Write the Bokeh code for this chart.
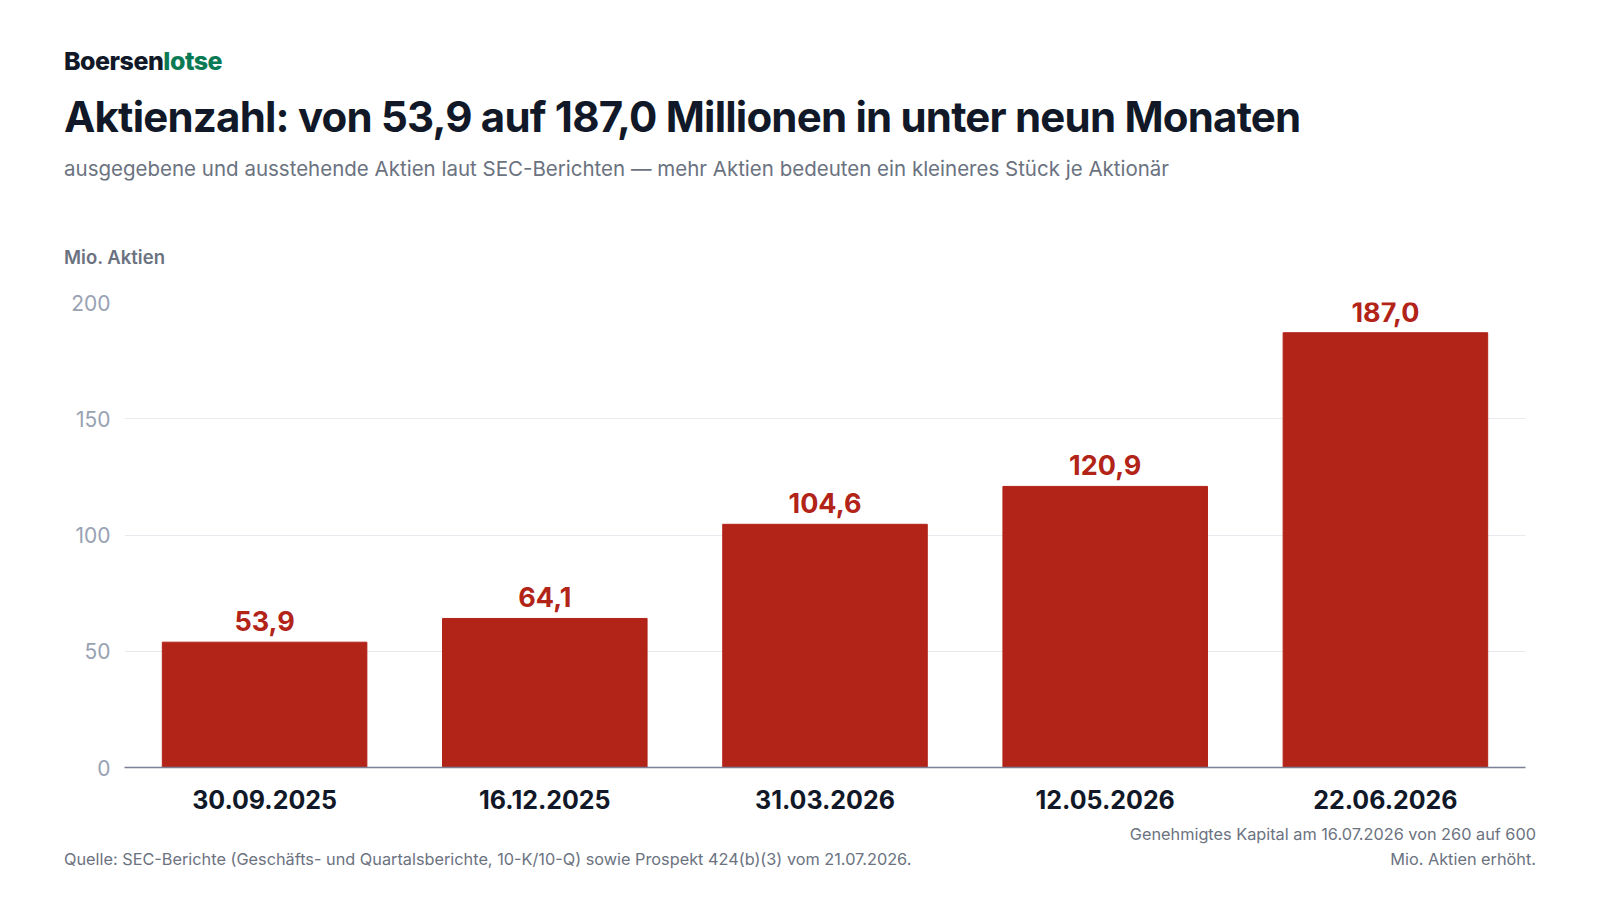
from bokeh.plotting import figure
from bokeh.models import Div, Range1d, ColumnDataSource
from bokeh.layouts import column
from bokeh.embed import file_html
from bokeh.resources import INLINE
from bokeh.core.properties import value

dates = ["30.09.2025", "16.12.2025", "31.03.2026", "12.05.2026", "22.06.2026"]
shares = [53.9, 64.1, 104.6, 120.9, 187.0]
labels = ["53,9", "64,1", "104,6", "120,9", "187,0"]
yticks = [0, 50, 100, 150, 200]

F = "Inter"
header = Div(width=1584, height=265, text=f"""
<div style="position:relative;width:1584px;height:265px;font-family:{F};">
<div style="position:absolute;left:59px;top:44px;font-size:25px;line-height:25px;font-weight:800;color:#111827;letter-spacing:-0.5px">Boersen<span style="color:#0a7a55">lotse</span></div>
<div style="position:absolute;left:59px;top:91px;font-size:42px;line-height:42px;font-weight:700;color:#111827;letter-spacing:-0.8px;white-space:nowrap">Aktienzahl: von 53,9 auf 187,0 Millionen in unter neun Monaten</div>
<div style="position:absolute;left:59px;top:152px;font-size:20.5px;line-height:24px;color:#6b7280;white-space:nowrap">ausgegebene und ausstehende Aktien laut SEC-Berichten — mehr Aktien bedeuten ein kleineres Stück je Aktionär</div>
<div style="position:absolute;left:59px;top:241px;font-size:18.5px;line-height:22px;font-weight:600;color:#6b7280">Mio. Aktien</div>
</div>""")

p = figure(width=1584, height=542, x_range=dates, y_range=Range1d(0, 200),
           output_backend="svg", toolbar_location=None,
           min_border_left=124, min_border_right=59, min_border_top=27, min_border_bottom=50)
src = ColumnDataSource(dict(x=dates, y=shares, t=labels))
p.vbar(x="x", top="y", width=0.73, source=src, color="#b22318")
p.text(x="x", y="y", text="t", source=src, text_align="center", text_baseline="bottom",
       y_offset=-11, text_font=value(F), text_font_size="27px", text_font_style="bold",
       text_color="#b22318")
p.outline_line_color = None
p.xgrid.grid_line_color = None
p.ygrid.grid_line_color = "#e8e9ee"
p.yaxis.ticker = yticks
p.yaxis.axis_line_color = None
p.yaxis.major_tick_line_color = None
p.yaxis.minor_tick_line_color = None
p.yaxis.major_label_text_font = F
p.yaxis.major_label_text_font_size = "21px"
p.yaxis.major_label_text_color = "#98a2b3"
p.yaxis.major_label_standoff = 8
p.xaxis.axis_line_color = "#7b8095"
p.xaxis.axis_line_width = 1.5
p.xaxis.major_tick_line_color = None
p.xaxis.major_label_text_font = F
p.xaxis.major_label_text_font_size = "25px"
p.xaxis.major_label_text_font_style = "bold"
p.xaxis.major_label_text_color = "#111827"
p.xaxis.major_label_standoff = 16
p.x_range.range_padding = 0

footer = Div(width=1584, height=66, text=f"""
<div style="position:relative;width:1584px;height:66px;font-family:{F};font-size:16.3px;line-height:24.5px;color:#6b7280">
<div style="position:absolute;right:53px;top:0px;text-align:right;white-space:nowrap">Genehmigtes Kapital am 16.07.2026 von 260 auf 600<br>Mio. Aktien erhöht.</div>
<div style="position:absolute;left:59px;top:25px;white-space:nowrap">Quelle: SEC-Berichte (Geschäfts- und Quartalsberichte, 10-K/10-Q) sowie Prospekt 424(b)(3) vom 21.07.2026.</div>
</div>""")

layout = column(header, p, footer, spacing=0)
open("out.html", "w").write(file_html(layout, INLINE))
